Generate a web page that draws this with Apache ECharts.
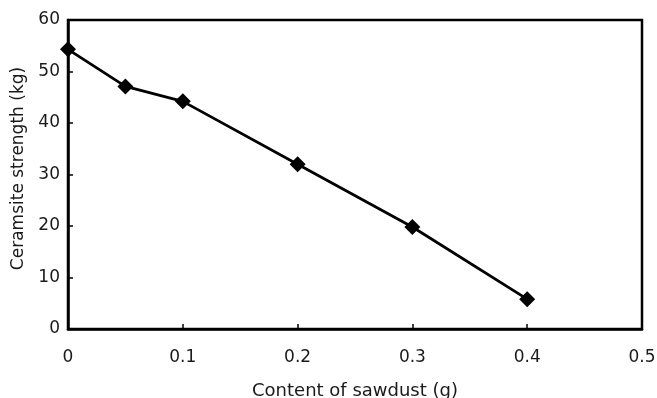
<!DOCTYPE html>
<html lang="en">
<head>
    <meta charset="UTF-8">
    <title>Ceramsite strength vs sawdust</title>
    <script src="https://cdn.jsdelivr.net/npm/echarts@6/dist/echarts.min.js"></script>
    <style>
        html, body { margin: 0; padding: 0; background: #fff; }
        #main { width: 657px; height: 398px; }
    </style>
</head>
<body>
<div id="main"></div>
<script>
    // data
    var sawdust = [0, 0.05, 0.1, 0.2, 0.3, 0.4];
    var strength = [54.3, 47.1, 44.2, 32, 19.8, 5.8];

    var points = sawdust.map(function (x, i) { return [x, strength[i]]; });

    var myChart = echarts.init(document.getElementById('main'));
    var font = 'DejaVu Sans, sans-serif';

    myChart.setOption({
        animation: false,
        grid: {
            left: 68, right: 15, top: 20, bottom: 69,
            outerBoundsMode: 'none',
            show: true, borderColor: '#000', borderWidth: 2.5
        },
        xAxis: {
            type: 'value',
            min: 0, max: 0.5, interval: 0.1,
            name: 'Content of sawdust (g)',
            nameLocation: 'middle',
            nameGap: 53,
            nameTextStyle: { color: '#1a1a1a', fontSize: 18, fontFamily: font },
            axisLine: { lineStyle: { color: '#000', width: 2.5 } },
            axisTick: { inside: true, length: 5, lineStyle: { color: '#000', width: 1.5 } },
            axisLabel: {
                color: '#1a1a1a', fontSize: 17, fontFamily: font, margin: 20,
                formatter: function (v) { return v === 0 ? '0' : v.toFixed(1); }
            },
            splitLine: { show: false }
        },
        yAxis: {
            type: 'value',
            min: 0, max: 60, interval: 10,
            name: 'Ceramsite strength (kg)',
            nameLocation: 'middle',
            nameGap: 31,
            nameTextStyle: { color: '#1a1a1a', fontSize: 17, fontFamily: font, padding: [0, 0, 0, 12] },
            axisLine: { lineStyle: { color: '#000', width: 2.5 } },
            axisTick: { inside: true, length: 5, lineStyle: { color: '#000', width: 1.5 } },
            axisLabel: { color: '#1a1a1a', fontSize: 17, fontFamily: font, margin: 8 },
            splitLine: { show: false }
        },
        series: [{
            type: 'line',
            data: points,
            symbol: 'diamond',
            symbolSize: 16,
            lineStyle: { color: '#000', width: 2.8 },
            itemStyle: { color: '#000' }
        }]
    });
</script>
</body>
</html>
